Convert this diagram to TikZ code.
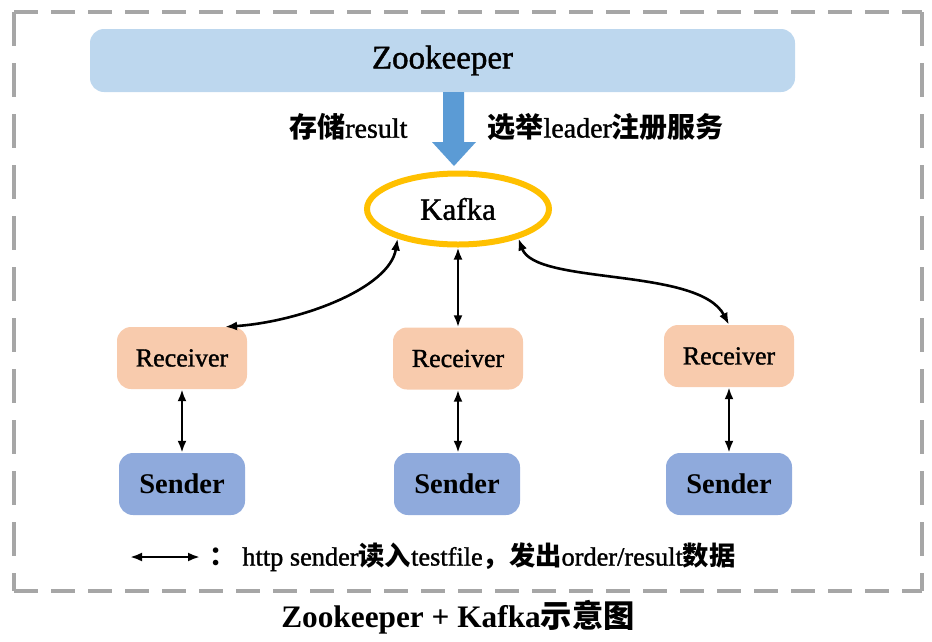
\documentclass[tikz,border=0pt]{standalone}
\usepackage{fontspec}
\setmainfont{Liberation Serif}
\newfontfamily\semib{Liberation Serif}[BoldFont={Liberation Serif}, BoldFeatures={FakeBold=1.3}]
\newfontfamily\cjk{Noto Sans CJK SC}
\newcommand{\zh}[1]{{\cjk\bfseries #1}}
\definecolor{zkblue}{HTML}{BDD7EE}
\definecolor{arrowblue}{HTML}{5B9BD5}
\definecolor{kafkaorange}{HTML}{FFC000}
\definecolor{recvpeach}{HTML}{F8CBAD}
\definecolor{sendblue}{HTML}{8FAADC}
\definecolor{framegray}{HTML}{A6A6A6}
\usetikzlibrary{shapes.geometric, arrows.meta}
\tikzset{
  recvbox/.style={fill=recvpeach, rounded corners=14pt, minimum width=130pt, minimum height=62pt, font=\fontsize{26}{30}\semib\bfseries},
  sendbox/.style={fill=sendblue, rounded corners=14pt, minimum width=126pt, minimum height=62pt, font=\fontsize{28.5}{32}\selectfont\bfseries},
  link/.style={{Latex[length=12pt, width=9pt]}-{Latex[length=12pt, width=9pt]}, line width=2.6pt}
}
\begin{document}
\begin{tikzpicture}[x=1pt, y=1pt]
  \useasboundingbox (0,0) rectangle (932,-641);
  % dashed frame
  \draw[framegray, line width=4pt, dash pattern=on 24pt off 13pt] (14,-12) -- (922,-12);
  \draw[framegray, line width=4pt, dash pattern=on 24pt off 13pt] (14,-591) -- (922,-591);
  \draw[framegray, line width=4pt, dash pattern=on 34pt off 17pt] (14,-12) -- (14,-591);
  \draw[framegray, line width=4pt, dash pattern=on 34pt off 17pt] (922,-12) -- (922,-591);
  % nodes
  \node[fill=zkblue, rounded corners=14pt, minimum width=705pt, minimum height=63pt, font=\fontsize{33}{38}\semib\bfseries] (zk) at (442.5,-60.5) {Zookeeper};
  \node[draw=kafkaorange, line width=6pt, ellipse, minimum width=182pt, minimum height=71pt, font=\fontsize{31}{36}\semib\bfseries] (kafka) at (458,-209) {Kafka};
  \node[recvbox] (r1) at (182,-358) {Receiver};
  \node[recvbox] (r2) at (458,-358.5) {Receiver};
  \node[recvbox] (r3) at (729,-356) {Receiver};
  \node[sendbox] (s1) at (182,-484) {Sender};
  \node[sendbox] (s2) at (457,-484) {Sender};
  \node[sendbox] (s3) at (729,-484) {Sender};
  % block arrow zookeeper -> kafka
  \fill[arrowblue] (443,-92) -- (464,-92) -- (464,-142) -- (476,-142) -- (454,-166) -- (432,-142) -- (443,-142) -- cycle;
  \node[anchor=east, font=\fontsize{28}{32}\semib\bfseries] (store) at (411,-127) {\zh{存储}result};
  \node[anchor=west, font=\fontsize{28}{32}\semib\bfseries] (elect) at (484,-127) {\zh{选举}leader\zh{注册服务}};
  % connectors
  \draw[link] (kafka.-154) .. controls +(-8,-50) and +(75,5) .. ([xshift=43pt]r1.north);
  \draw[link] (kafka.south) -- (r2.north);
  \draw[link] (kafka.-26) .. controls +(17,-47) and +(-30,58) .. (r3.north);
  \draw[link] (r1) -- (s1);
  \draw[link] (r2) -- (r2 |- s2.north);
  \draw[link] (r3) -- (s3);
  % legend
  \coordinate (la) at (130,-557);
  \coordinate (lb) at (200,-557);
  \draw[link, line width=2.4pt] (la) -- (lb);
  \node[anchor=west, font=\fontsize{26.3}{30}\semib\bfseries] (legend) at (206,-557) {\zh{：}\ http sender\zh{读入}testfile\zh{，发出}order/result\zh{数据}};
  % caption
  \node[font=\fontsize{31.3}{36}\selectfont\bfseries] (caption) at (458,-617) {Zookeeper + Kafka\zh{示意图}};
\end{tikzpicture}
\end{document}
